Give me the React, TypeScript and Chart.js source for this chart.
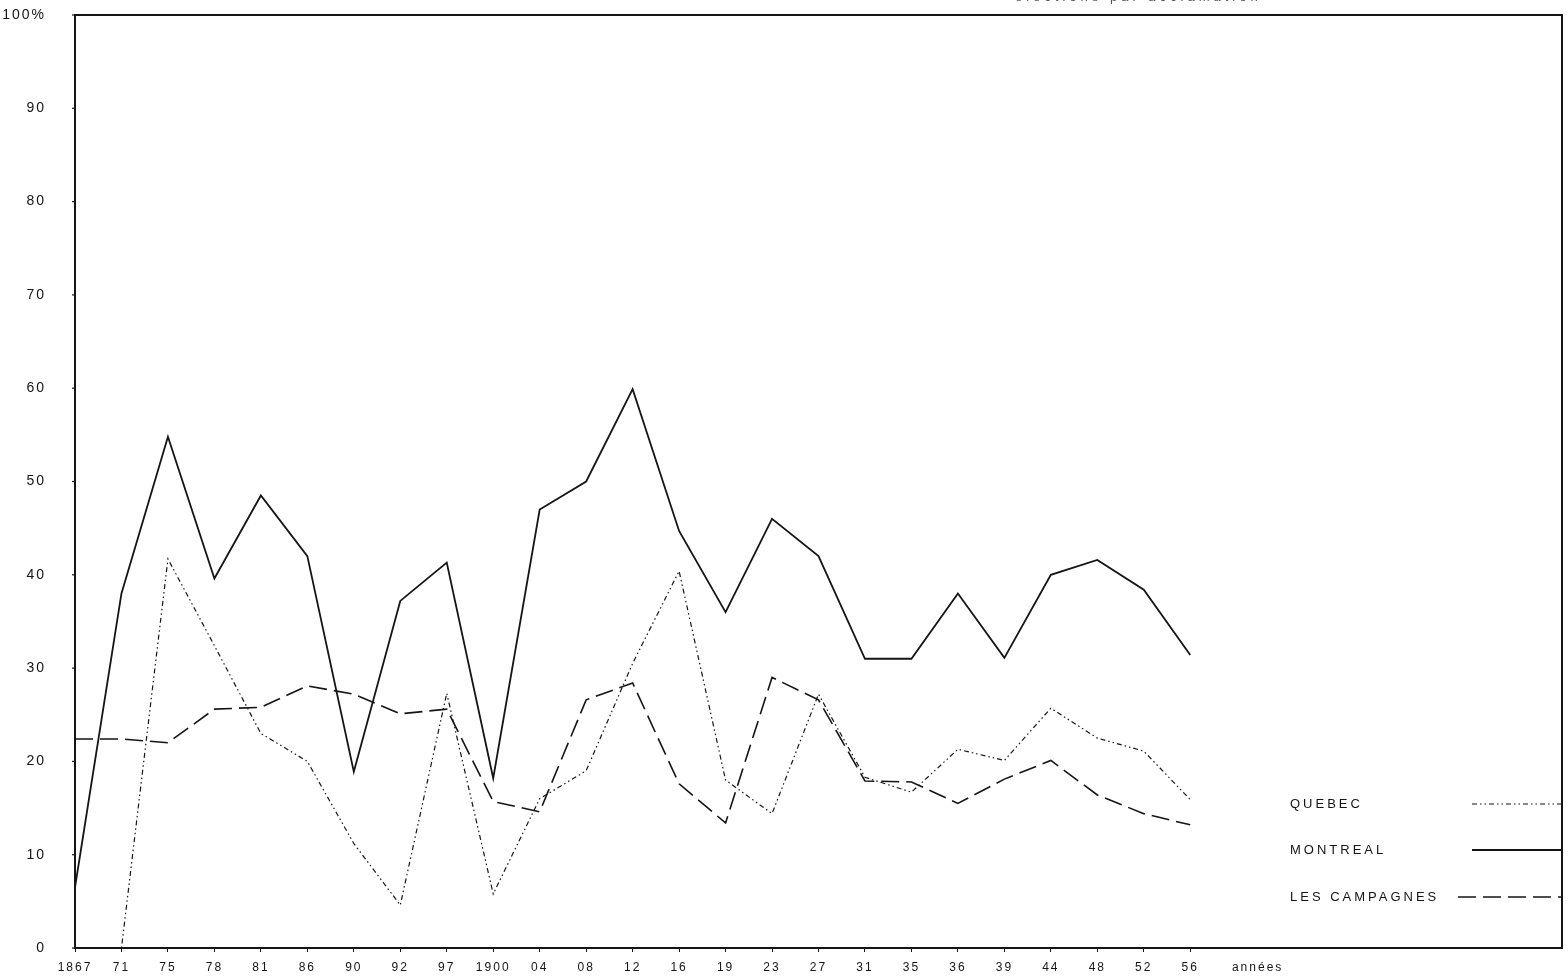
import React, { useEffect, useRef } from "react";
import { Chart, registerables } from "chart.js";

Chart.register(...registerables);

// ---- data ----
const yearLabels = ["1867", "71", "75", "78", "81", "86", "90", "92", "97", "1900", "04", "08", "12", "16", "19", "23", "27", "31", "35", "36", "39", "44", "48", "52", "56"];
const xUnitLabel = "années";
const yUnitTop = "100%";

const quebec = [0, 0, 41.7, 32.4, 23, 20, 11.2, 4.6, 27.3, 5.8, 16, 19, 30.5, 40.4, 18, 14.4, 27.2, 18.3, 16.7, 21.3, 20.1, 25.7, 22.5, 21.1, 15.9];
const montreal = [6.5, 38, 54.8, 39.6, 48.5, 42, 18.9, 37.2, 41.3, 18.2, 47, 50, 59.9, 44.7, 36, 46, 42, 31, 31, 38, 31.1, 40, 41.6, 38.4, 31.4];
const campagnes = [22.4, 22.4, 22, 25.6, 25.8, 28.1, 27.2, 25.1, 25.6, 15.7, 14.6, 26.6, 28.4, 17.6, 13.4, 29, 26.6, 17.9, 17.8, 15.5, 18.1, 20.1, 16.4, 14.4, 13.2];

const seriesNames = ["QUEBEC", "MONTREAL", "LES CAMPAGNES"];
const titleFragment = "élections par acclamation";

const INK = "#151515";
const FONT = '"Liberation Sans", Arial, sans-serif';

export default function App() {
  const ref = useRef<HTMLCanvasElement>(null);

  useEffect(() => {
    document.body.style.margin = "0";
    const canvas = ref.current!;

    const toPoints = (arr: number[]) => arr.map((y, i) => ({ x: i, y }));

    const datasets: any[] = [
      {
        label: seriesNames[0],
        data: toPoints(quebec),
        borderColor: INK,
        borderWidth: 1.2,
        borderDash: [5, 3, 1.5, 3, 1.5, 3],
        pointRadius: 0,
        fill: false,
        tension: 0,
      },
      {
        label: seriesNames[1],
        data: toPoints(montreal),
        borderColor: INK,
        borderWidth: 1.8,
        borderDash: [],
        pointRadius: 0,
        fill: false,
        tension: 0,
      },
      {
        label: seriesNames[2],
        data: toPoints(campagnes),
        borderColor: INK,
        borderWidth: 1.6,
        borderDash: [18, 7],
        pointRadius: 0,
        fill: false,
        tension: 0,
      },
    ];

    const spacingPlugin = {
      id: "spacing",
      beforeDraw(chart: any) {
        chart.ctx.letterSpacing = "2px";
      },
    };

    const framePlugin = {
      id: "frame",
      afterDraw(chart: any) {
        const { ctx, chartArea } = chart;
        ctx.save();
        ctx.strokeStyle = INK;
        ctx.lineWidth = 2;
        ctx.setLineDash([]);
        ctx.beginPath();
        ctx.moveTo(chartArea.left, chartArea.top);
        ctx.lineTo(chartArea.right, chartArea.top);
        ctx.lineTo(chartArea.right, chartArea.bottom);
        ctx.stroke();
        // small tick marks on the left axis
        const y = chart.scales.y;
        ctx.lineWidth = 1.2;
        y.ticks.forEach((t: any) => {
          const py = y.getPixelForValue(t.value);
          ctx.beginPath();
          ctx.moveTo(chartArea.left - 3, py);
          ctx.lineTo(chartArea.left, py);
          ctx.stroke();
        });
        ctx.restore();
      },
    };

    const legendPlugin = {
      id: "customLegend",
      afterDraw(chart: any) {
        const { ctx, chartArea } = chart;
        const rows = [
          { ds: chart.data.datasets[0], y: 804, x0: chartArea.right - 90 },
          { ds: chart.data.datasets[1], y: 850, x0: chartArea.right - 90 },
          { ds: chart.data.datasets[2], y: 897, x0: chartArea.right - 104 },
        ];
        ctx.save();
        ctx.font = `13px ${FONT}`;
        ctx.letterSpacing = "3px";
        ctx.fillStyle = INK;
        ctx.textBaseline = "middle";
        ctx.textAlign = "left";
        rows.forEach((r) => {
          ctx.fillText(r.ds.label, chartArea.right - 272, r.y);
          ctx.beginPath();
          ctx.strokeStyle = INK;
          ctx.lineWidth = r.ds.borderWidth;
          ctx.setLineDash(r.ds.borderDash || []);
          ctx.moveTo(r.x0, r.y);
          ctx.lineTo(chartArea.right, r.y);
          ctx.stroke();
        });
        ctx.restore();
      },
    };

    const unitPos = yearLabels.length + 0.45;

    const chart = new Chart(canvas, {
      type: "line",
      data: { datasets },
      options: {
        responsive: false,
        animation: false,
        devicePixelRatio: 1,
        layout: { padding: { top: 15, right: 6, left: 0, bottom: 0 } },
        plugins: {
          legend: { display: false },
          tooltip: { enabled: false },
          title: { display: false },
        },
        scales: {
          x: {
            type: "linear",
            min: 0,
            max: 32,
            afterBuildTicks: (s: any) => {
              s.ticks = yearLabels.map((_, i) => ({ value: i })).concat([{ value: unitPos }]);
            },
            afterFit: (s: any) => {
              s.height = 31;
            },
            ticks: {
              autoSkip: false,
              maxRotation: 0,
              minRotation: 0,
              padding: 8,
              color: INK,
              font: { family: FONT, size: 12 },
              callback: (v: any) => {
                const n = Number(v);
                if (n > yearLabels.length - 0.5) return xUnitLabel;
                return yearLabels[Math.round(n)] ?? "";
              },
            },
            grid: {
              drawOnChartArea: false,
              drawTicks: true,
              tickLength: 4,
              color: (c: any) => (c.tick && c.tick.value > yearLabels.length - 0.5 ? "rgba(0,0,0,0)" : INK),
            },
            border: { display: true, color: INK, width: 2 },
          },
          y: {
            min: 0,
            max: 100,
            afterFit: (s: any) => {
              s.width = 75;
              s.paddingTop = 0;
              s.paddingBottom = 0;
            },
            ticks: {
              stepSize: 10,
              padding: 0,
              color: INK,
              font: { family: FONT, size: 14 },
              callback: (v: any) => (Number(v) === 100 ? yUnitTop : String(v)),
            },
            grid: {
              drawOnChartArea: false,
              drawTicks: true,
              tickLength: 29,
              color: "rgba(0,0,0,0)",
            },
            border: { display: true, color: INK, width: 2 },
          },
        },
      } as any,
      plugins: [spacingPlugin, framePlugin, legendPlugin],
    });

    return () => chart.destroy();
  }, []);

  return (
    <div style={{ position: "absolute", left: 0, top: 0, width: 1568, height: 979, overflow: "hidden", background: "#fff" }}>
      <canvas ref={ref} width={1568} height={979} style={{ display: "block" }} />
      <div
        style={{
          position: "absolute",
          top: -11,
          left: 1015,
          font: `13px ${FONT}`,
          letterSpacing: "4px",
          color: "#555",
          whiteSpace: "nowrap",
        }}
      >
        {titleFragment}
      </div>
    </div>
  );
}
